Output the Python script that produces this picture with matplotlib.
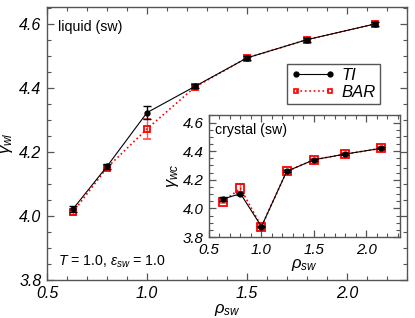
import matplotlib
matplotlib.use("Agg")
import matplotlib.pyplot as plt
from matplotlib.lines import Line2D
from matplotlib.ticker import MultipleLocator

plt.rcParams["font.family"] = ["Liberation Sans", "DejaVu Sans"]
plt.rcParams["font.style"] = "italic"   # 刻度标签用斜体
plt.rcParams["mathtext.fontset"] = "custom"
plt.rcParams["mathtext.rm"] = "Liberation Sans"
plt.rcParams["mathtext.it"] = "Liberation Sans:italic"

# ── 液相数据 ──
rho_liq = [0.63, 0.80, 1.00, 1.24, 1.50, 1.80, 2.14]
ti_liq = [4.022, 4.155, 4.323, 4.405, 4.494, 4.551, 4.600]
ti_liq_err = [0.010, 0.008, 0.020, 0.006, 0.006, 0.006, 0.006]
bar_liq = [4.012, 4.151, 4.272, 4.403, 4.494, 4.551, 4.600]
bar_liq_err = [0.008, 0.008, 0.030, 0.006, 0.006, 0.006, 0.006]

# ── 晶体数据 ──
rho_cry = [0.63, 0.80, 1.00, 1.24, 1.50, 1.80, 2.14]
ti_cry = [4.065, 4.103, 3.873, 4.259, 4.340, 4.380, 4.420]
ti_cry_err = [0.012, 0.008, 0.006, 0.006, 0.006, 0.006, 0.006]
bar_cry = [4.046, 4.140, 3.873, 4.259, 4.340, 4.380, 4.420]
bar_cry_err = [0.010, 0.030, 0.008, 0.006, 0.006, 0.006, 0.006]

SPINE = "#555555"


def style_axes(ax, fs):
    for s in ax.spines.values():
        s.set_color(SPINE)
        s.set_linewidth(1.0)
    ax.tick_params(which="both", direction="in", top=True, right=True, color=SPINE)
    ax.tick_params(which="major", length=5, width=0.9, pad=4, labelsize=fs)
    ax.tick_params(which="minor", length=3, width=0.8)
    ax.xaxis.set_major_locator(MultipleLocator(0.5))
    ax.xaxis.set_minor_locator(MultipleLocator(0.1))
    ax.yaxis.set_major_locator(MultipleLocator(0.2))
    ax.yaxis.set_minor_locator(MultipleLocator(0.05))


def draw_series(ax, x, bar, bar_err, ti, ti_err, ms_bar, ms_ti):
    ax.errorbar(x, bar, yerr=bar_err, color="red", ls=":", lw=1.2,
                marker="s", ms=ms_bar, mfc="none", mec="red", mew=1.3,
                ecolor=(1, 0.35, 0.35), elinewidth=1.0, capsize=3, zorder=2)
    ax.errorbar(x, ti, yerr=ti_err, color="black", ls="-", lw=0.8,
                marker="o", ms=ms_ti, mfc="black", mec="black",
                ecolor="black", elinewidth=1.0, capsize=3, zorder=3)


fig = plt.figure(figsize=(4.15, 3.18), dpi=100)

# ── 主图 ──
ax = fig.add_axes([0.1133, 0.1195, 0.8674, 0.8585])
draw_series(ax, rho_liq, bar_liq, bar_liq_err, ti_liq, ti_liq_err, 5, 3.5)
ax.set_xlim(0.5, 2.3)
ax.set_ylim(3.8, 4.653)
style_axes(ax, 11.5)
ax.set_xlabel(r"$\rho_{sw}$", fontsize=12, labelpad=1)
ax.set_ylabel(r"$\gamma_{wl}$", fontsize=12, labelpad=3)
ax.text(0.03, 0.925, "liquid (sw)", transform=ax.transAxes, fontsize=10.2,
        va="center", style="normal")
ax.text(0.03, 0.065, r"$T$ = 1.0, $\varepsilon_{sw}$ = 1.0", transform=ax.transAxes,
        fontsize=10.2, va="center", style="normal")

handles = [
    Line2D([], [], color="black", ls="-", lw=0.8, marker="o", ms=3.5),
    Line2D([], [], color="red", ls=":", lw=1.2, marker="s", ms=3.5,
           mfc="none", mew=1.2),
]
leg = ax.legend(handles, ["TI", "BAR"], numpoints=2, loc="upper left",
                bbox_to_anchor=(0.667, 0.792), frameon=True, fancybox=False,
                handlelength=2.6, handletextpad=0.4, borderpad=0.25,
                labelspacing=0.1, borderaxespad=0,
                prop=dict(family="Liberation Sans", style="italic", size=12))
leg.get_frame().set_edgecolor(SPINE)
leg.get_frame().set_linewidth(1.0)
leg.get_frame().set_alpha(1)

# ── 插图 ──
ins = fig.add_axes([0.5036, 0.2547, 0.4603, 0.3837])
draw_series(ins, rho_cry, bar_cry, bar_cry_err, ti_cry, ti_cry_err, 6, 3.5)
ins.set_xlim(0.5, 2.32)
ins.set_ylim(3.8, 4.653)
style_axes(ins, 10.8)
ins.set_xlabel(r"$\rho_{sw}$", fontsize=12, labelpad=0)
ins.set_ylabel(r"$\gamma_{wc}$", fontsize=12, labelpad=1)
ins.text(0.03, 0.88, "crystal (sw)", transform=ins.transAxes, fontsize=10.2,
         va="center", style="normal")

fig.savefig("out.png", dpi=100)
